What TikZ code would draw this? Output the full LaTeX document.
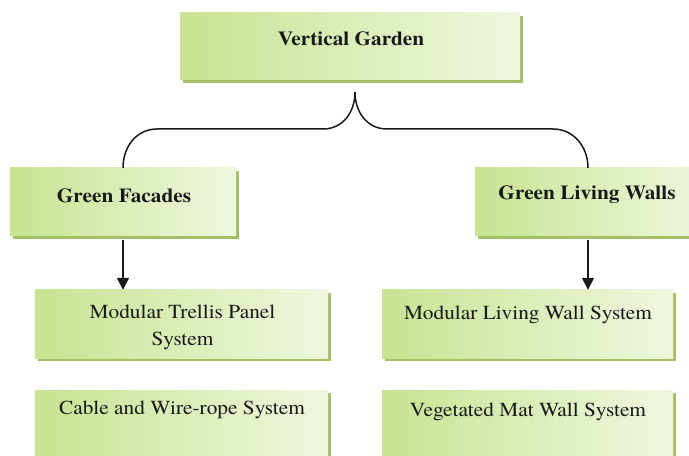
\documentclass[tikz,border=0pt]{standalone}
\usepackage{fontspec}
\setmainfont{texgyretermes}[Extension=.otf, UprightFont=*-regular, BoldFont=*-bold, ItalicFont=*-italic, BoldItalicFont=*-bolditalic, FakeStretch=1.07]
\usetikzlibrary{shadows,arrows.meta}
\definecolor{gA}{HTML}{C8E392}
\definecolor{gB}{HTML}{EEF7DE}
\definecolor{gS}{HTML}{A2C165}
\tikzset{
  gbox/.style={rectangle, inner sep=0pt, left color=gA, right color=gB,
    drop shadow={shadow xshift=3bp, shadow yshift=-3bp, fill=gS, opacity=1}},
  btxt/.style={inner sep=0pt, font=\fontsize{20}{24}\selectfont\bfseries, text=black!90},
  rtxt/.style={inner sep=0pt, font=\fontsize{20}{27}\selectfont, text=black!90, align=center},
  conn/.style={line width=1.5bp, black!90},
  arr/.style={conn, -{Triangle[width=12bp,length=12bp]}}
}
\begin{document}
\begin{tikzpicture}[x=1bp,y=-1bp]
\useasboundingbox (0,0) rectangle (689,456);
\clip (0,0) rectangle (689,456);
% boxes
\node[gbox, minimum width=340bp, minimum height=67bp] (vg) at (350,46.5) {};
\node[gbox, minimum width=226bp, minimum height=68bp] (gf) at (123,202) {};
\node[gbox, minimum width=230bp, minimum height=68bp] (glw) at (590,202) {};
\node[gbox, minimum width=293bp, minimum height=68bp] (mt) at (181.5,324) {};
\node[gbox, minimum width=291bp, minimum height=68bp] (ml) at (527.5,324) {};
\node[gbox, minimum width=293bp, minimum height=80bp] (cw) at (181.5,430) {};
\node[gbox, minimum width=291bp, minimum height=80bp] (vm) at (527.5,430) {};
% texts
\node[btxt] (tvg) at (351,39) {Vertical Garden};
\node[btxt] (tgf) at (124,196) {Green Facades};
\node[btxt] (tglw) at (587,195) {Green Living Walls};
\node[rtxt] (tmt) at (182.5,327) {Modular Trellis Panel\\System};
\node[rtxt] (tml) at (528,315) {Modular Living Wall System};
\node[rtxt] (tcw) at (182,410) {Cable and Wire-rope System};
\node[rtxt] (tvm) at (528,412) {Vegetated Mat Wall System};
% brace
\coordinate (apex) at (355,92);
\coordinate (gft) at (123,168);
\coordinate (glwt) at (588,168);
\draw[conn] (gft) .. controls (123,146) and (137,129) .. (157,129)
  -- (323,129) .. controls (343,129) and (355,112) .. (apex)
  .. controls (355,112) and (367,129) .. (387,129)
  -- (553,129) .. controls (573,129) and (588,146) .. (glwt);
% arrows
\draw[arr] (gf.south -| gft) ++(0,4) coordinate (a1) -- (a1 |- mt.north);
\draw[arr] (glw.south -| glwt) ++(0,4) coordinate (a2) -- (a2 |- ml.north);
\end{tikzpicture}
\end{document}
